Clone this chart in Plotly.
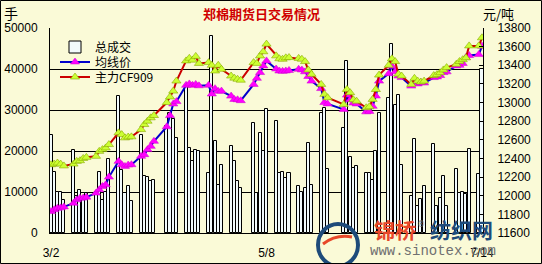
import plotly.graph_objects as go

# ---------------- data ----------------
trade_days = {
    3: [2, 3, 4, 5, 6, 9, 10, 11, 12, 13, 16, 17, 18, 19, 20, 23, 24, 25, 26, 27, 30, 31],
    4: [1, 2, 3, 7, 8, 9, 10, 13, 14, 15, 16, 17, 20, 21, 22, 23, 24, 27, 28, 29, 30],
    5: [4, 5, 6, 7, 8, 11, 12, 13, 14, 15, 18, 19, 20, 21, 22, 25, 26, 27],
    6: [1, 2, 3, 4, 5, 8, 9, 10, 11, 12, 15, 16, 17, 18, 19, 22, 23, 24, 25, 26, 29, 30],
    7: [1, 2, 3, 6, 7, 8, 9, 10, 13, 14],
}
dates = [f"2009-{m:02d}-{d:02d}" for m, ds in trade_days.items() for d in ds]

volume = [
    24000, 15000, 10100, 10100, 8000, 20300, 9000, 10500, 8500, 9700, 10000, 15000, 8000, 10000, 18000,
    33300, 15400, 9700, 11400, 7700, 23800, 14000,
    13700, 12600, 13000, 26000, 29300, 27700, 23200, 35500, 20800, 17500, 20300, 19900, 14600, 48100,
    22400, 11800, 16700, 21200, 17500, 12600, 11000,
    26900, 9700, 24300, 19900, 30200, 27300, 14600, 15000, 13400, 14600, 11500, 10100, 11000, 22000,
    11800, 29300, 30600, 15600,
    25700, 42000, 18500, 15800, 16300, 14600, 14600, 13000, 20000, 29300, 33000, 46000, 31200, 33600,
    16700, 9100, 23000, 6500, 8300, 11400, 21800, 6500,
    8500, 14000, 6700, 15600, 9700, 10000, 9500, 20600, 14400, 40000,
]

avg_price = [
    11830, 11850, 11866, 11870, 11880, 11920, 11956, 11974, 11975, 11985, 12028, 12064, 12100, 12117, 12200,
    12369, 12333, 12315, 12330, 12333, 12423, 12441,
    12495, 12530, 12584, 12740, 12860, 12985, 13010, 13185, 13200, 13185, 13195, 13180, 13185, 13092,
    13149, 13120, 13123, 13069, 13034, 13030, 13020,
    13195, 13260, 13322, 13393, 13447, 13360, 13339, 13335, 13339, 13345, 13357, 13350, 13330, 13280,
    13230, 13150, 13000, 12985,
    12926, 13080, 13030, 12995, 12985, 12900, 12905, 12960, 13070, 13230, 13310, 13390, 13330, 13285,
    13268, 13177, 13210, 13200, 13214, 13210, 13268, 13275,
    13290, 13322, 13330, 13393, 13400, 13420, 13483, 13505, 13515, 13605,
]

main_price = [
    12333, 12340, 12351, 12340, 12320, 12340, 12369, 12376, 12400, 12412, 12423, 12476, 12495, 12513, 12549,
    12675, 12656, 12621, 12630, 12632, 12710, 12764,
    12800, 12836, 12861, 13000, 13060, 13123, 13231, 13447, 13475, 13455, 13495, 13420, 13429, 13400,
    13339, 13400, 13357, 13285, 13262, 13250, 13240,
    13429, 13420, 13500, 13545, 13627, 13501, 13470, 13465, 13480, 13483, 13474, 13465, 13440, 13350,
    13303, 13195, 13088, 13052,
    12980, 13141, 13106, 13030, 13015, 12944, 12955, 13034, 13140, 13295, 13400, 13470, 13440, 13305,
    13285, 13195, 13260, 13230, 13220, 13230, 13290, 13300,
    13320, 13350, 13375, 13411, 13440, 13460, 13480, 13608, 13608, 13695,
]

x_tick_vals = ["2009-03-02", "2009-05-08", "2009-07-14"]
x_tick_text = ["3/2", "5/8", "7/14"]

# ---------------- style ----------------
BG = "#FAFAD7"
W, H = 542, 264
L, R, T, B = 50, 483, 28, 233


def px(x):
    return (x - L) / (R - L)


def py(y):
    return (B - y) / (B - T)


fig = go.Figure()
fig.add_trace(go.Bar(
    x=dates, y=volume, name="总成交", legend="legend",
    marker=dict(color="#F2FBFC", line=dict(color="black", width=1)),
    width=0.95 * 86400000,
))
fig.add_trace(go.Scatter(
    x=dates, y=avg_price, name="均线价", yaxis="y2", mode="lines+markers", legend="legend2",
    line=dict(color="#0000CC", width=2),
    marker=dict(symbol="triangle-up", size=8, color="#FF00FF", line=dict(color="#CC00CC", width=0.5)),
))
fig.add_trace(go.Scatter(
    x=dates, y=main_price, name="主力CF909", yaxis="y2", mode="lines+markers", legend="legend3",
    line=dict(color="#CC0000", width=2),
    marker=dict(symbol="triangle-up", size=8, color="#CCFF33", line=dict(color="#88AA00", width=0.6)),
))

font_num = dict(family="Liberation Sans, Arial", size=12, color="black")
leg_font = dict(family="Noto Sans CJK SC", size=12, color="black")


def leg(ycenter):
    return dict(x=px(55), y=py(ycenter), xanchor="left", yanchor="middle",
                bgcolor="rgba(0,0,0,0)", font=leg_font, itemwidth=30)


fig.update_layout(
    width=W, height=H,
    margin=dict(l=L, r=W - R, t=T, b=H - B, autoexpand=False),
    paper_bgcolor=BG, plot_bgcolor=BG,
    showlegend=True,
    bargap=0,
    legend=leg(47), legend2=leg(62), legend3=leg(77),
    xaxis=dict(
        type="date", range=["2009-03-01 16:30", "2009-07-14 07:30"],
        tickvals=x_tick_vals, ticktext=x_tick_text,
        showgrid=False, showline=True, linecolor="black", linewidth=1,
        ticks="outside", ticklen=9, tickcolor=BG, tickfont=font_num,
        zeroline=False, automargin=False,
    ),
    yaxis=dict(
        range=[0, 50000], dtick=10000, tickformat="d", showgrid=True, gridcolor="black", gridwidth=1,
        showline=True, linecolor="black", linewidth=1, ticks="",
        tickfont=font_num, ticklabelstandoff=9, zeroline=False, automargin=False,
    ),
    yaxis2=dict(
        range=[11600, 13800], dtick=200, tickformat="d", overlaying="y", side="right",
        showgrid=False, showline=True, linecolor="black", linewidth=1,
        ticks="inside", ticklen=4, tickcolor="black",
        tickfont=font_num, ticklabelstandoff=11, zeroline=False, automargin=False,
    ),
)


def note(text, x, y, size, color, family="Noto Sans CJK SC"):
    return dict(text=text, x=px(x), y=py(y), xref="paper", yref="paper",
                xanchor="center", yanchor="middle", showarrow=False,
                font=dict(family=family, size=size, color=color))


ann = [
    note("<b>郑棉期货日交易情况</b>", 261, 14, 13, "#D00000"),
    note("手", 11, 13, 14, "black"),
    note("元/吨", 499, 14, 13, "black"),
    # watermark
    note("<b>锦桥</b>", 395, 229, 21, "#E8482A"),
    note("®", 421, 224, 8, "#777777", "DejaVu Sans"),
    note("<b>纺织网</b>", 461, 229, 21, "#1E4B7A"),
    note("www.sinotex.com", 433, 251, 14, "#707070", "Liberation Mono"),
]
fig.update_layout(annotations=ann)

shapes = [
    dict(type="circle", xref="paper", yref="paper",
         x0=px(318), x1=px(358), y0=py(266), y1=py(224),
         line=dict(color="#1E4B7A", width=4)),
    dict(type="path", xref="paper", yref="paper",
         path=f"M {px(323)} {py(244)} Q {px(336)} {py(234)} {px(352)} {py(237)}",
         line=dict(color="#E8482A", width=3)),
    dict(type="rect", xref="paper", yref="paper",
         x0=px(0.5), x1=px(W - 0.5), y0=py(H - 0.5), y1=py(0.5),
         line=dict(color="black", width=1)),
]
fig.update_layout(shapes=shapes)

fig.write_html("out.html")
